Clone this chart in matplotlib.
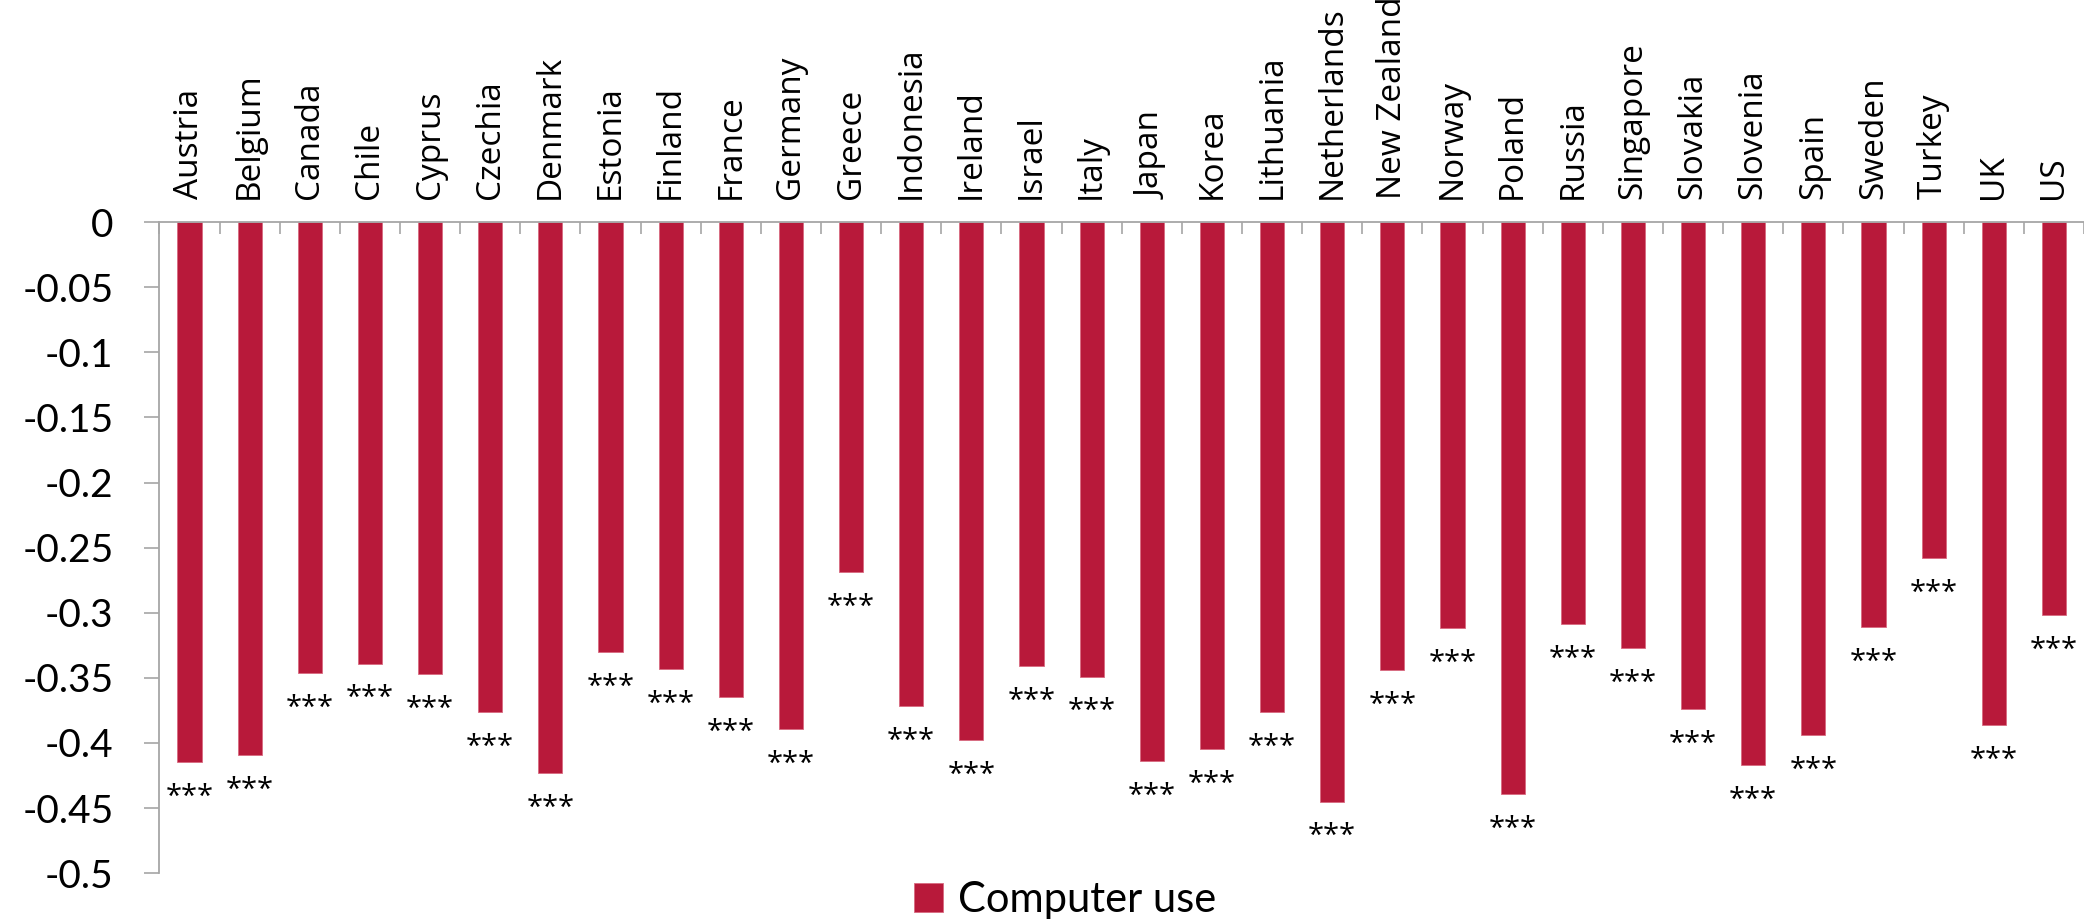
import matplotlib
matplotlib.use("Agg")
import matplotlib.pyplot as plt
import numpy as np

countries = ["Austria", "Belgium", "Canada", "Chile", "Cyprus", "Czechia", "Denmark",
             "Estonia", "Finland", "France", "Germany", "Greece", "Indonesia", "Ireland",
             "Israel", "Italy", "Japan", "Korea", "Lithuania", "Netherlands", "New Zealand",
             "Norway", "Poland", "Russia", "Singapore", "Slovakia", "Slovenia", "Spain",
             "Sweden", "Turkey", "UK", "US"]
computer_use = [-0.415, -0.409, -0.346, -0.339, -0.347, -0.376, -0.423,
                -0.330, -0.343, -0.365, -0.389, -0.269, -0.372, -0.398,
                -0.341, -0.349, -0.414, -0.405, -0.376, -0.445, -0.344,
                -0.312, -0.439, -0.309, -0.327, -0.374, -0.417, -0.394,
                -0.311, -0.258, -0.386, -0.302]
significance = ["***"] * len(countries)
yticks = [0, -0.05, -0.1, -0.15, -0.2, -0.25, -0.3, -0.35, -0.4, -0.45, -0.5]
ytick_labels = ["0", "-0.05", "-0.1", "-0.15", "-0.2", "-0.25", "-0.3", "-0.35", "-0.4", "-0.45", "-0.5"]

RED = "#B8193A"
GRAY = "#A6A6A6"

fig = plt.figure(figsize=(20.84, 9.22), dpi=100)
ax = fig.add_axes([0.0765, 0.053, 0.9235, 0.706])

x = np.arange(len(countries))
bars = ax.bar(x, computer_use, width=0.4, color=RED, edgecolor="#D86A80", linewidth=0.6,
              label="Computer use", zorder=2)

for xi, v, s in zip(x, computer_use, significance):
    ax.annotate(s, xy=(xi, v), xytext=(0, -15), textcoords="offset points",
                ha="center", va="top", fontsize=21, family="Open Sans", color="black")

ax.set_xlim(-0.5, len(countries) - 0.5)
ax.set_ylim(-0.5, 0)

ax.set_yticks(yticks)
ax.set_yticklabels(ytick_labels, family="Lato", fontsize=28, color="black")
ax.tick_params(axis="y", direction="out", length=11, width=1.2, color=GRAY, pad=22)

ax.xaxis.set_ticks_position("top")
ax.set_xticks(x)
ax.set_xticklabels(countries, rotation=90, family="Open Sans", fontsize=24)
ax.set_xticks(np.arange(len(countries) + 1) - 0.5, minor=True)
ax.tick_params(axis="x", which="major", length=0, pad=17)
ax.tick_params(axis="x", which="minor", direction="in", length=8.5, width=1.2, color=GRAY)

for side in ["right", "bottom"]:
    ax.spines[side].set_visible(False)
for side in ["left", "top"]:
    ax.spines[side].set_color(GRAY)
    ax.spines[side].set_linewidth(1.3)

leg = fig.legend(handles=[bars], labels=["Computer use"], loc="center",
                 bbox_to_anchor=(0.511, 0.024), frameon=False,
                 prop={"family": "Lato", "size": 30},
                 handlelength=0.7, handleheight=0.7, handletextpad=0.35)

fig.savefig("out.png", dpi=100)
